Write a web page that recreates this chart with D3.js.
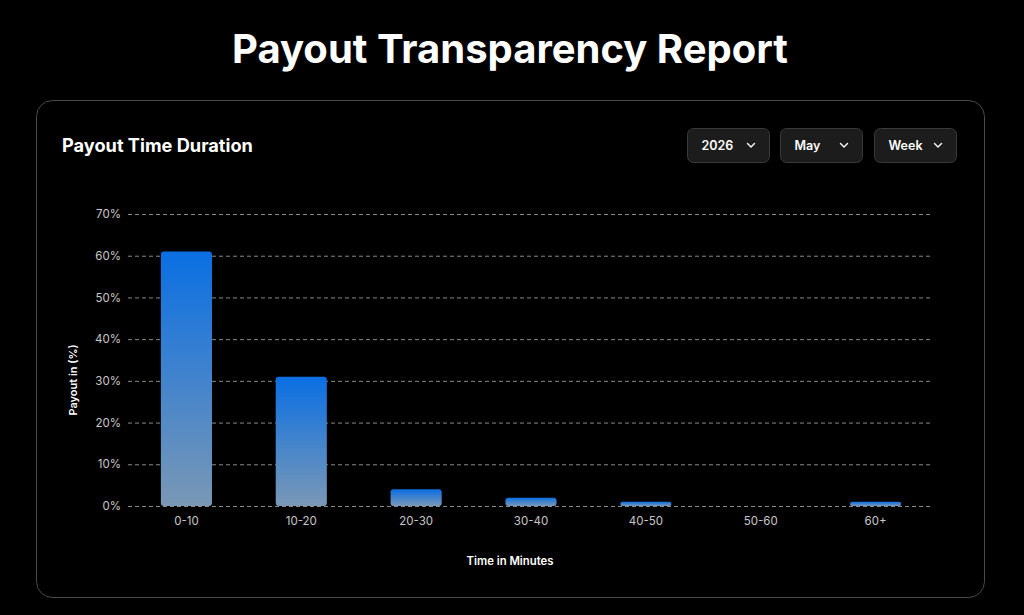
<!DOCTYPE html>
<html><head><meta charset="utf-8">
<script src="https://cdn.jsdelivr.net/npm/d3@7"></script>
<style>
html,body{margin:0;padding:0;background:#000;}
svg{display:block;font-family:Inter, "Noto Sans", sans-serif;}
</style></head>
<body><svg id="c" width="1024" height="615"></svg>
<script>
const categories = ["0-10","10-20","20-30","30-40","40-50","50-60","60+"];
const payoutPct = [61, 31, 4, 2, 1, 0, 1];
const yTicks = [0,10,20,30,40,50,60,70];
const dropdownLabels = ["2026","May","Week"];

const svg = d3.select("#c");
const defs = svg.append("defs");
const grad = defs.append("linearGradient").attr("id","barGrad").attr("x1",0).attr("y1",0).attr("x2",0).attr("y2",1);
grad.append("stop").attr("offset","0%").attr("stop-color","#0a6fe3");
grad.append("stop").attr("offset","100%").attr("stop-color","#7a98b6");

svg.append("text").attr("x",510).attr("y",63).attr("text-anchor","middle")
  .attr("fill","#fff").attr("font-size",40).attr("font-weight",700).text("Payout Transparency Report");

svg.append("rect").attr("x",36.5).attr("y",100.5).attr("width",948).attr("height",497).attr("rx",16)
  .attr("fill","#000").attr("stroke","#4a4a4a").attr("stroke-width",1);

svg.append("text").attr("x",62).attr("y",152).attr("fill","#fff").attr("font-size",18.2).attr("font-weight",700)
  .text("Payout Time Duration");

const ddX = [687,780,874];
dropdownLabels.forEach((t,i)=>{
  const g = svg.append("g").attr("transform",`translate(${ddX[i]+0.5},128.5)`);
  g.append("rect").attr("width",82).attr("height",34).attr("rx",6).attr("fill","#1c1c1c").attr("stroke","#3a3a3a");
  g.append("text").attr("x",14).attr("y",21).attr("fill","#fff").attr("font-size",12.5).attr("font-weight",600).text(t);
  g.append("path").attr("d","M60,15 l3.5,3.5 l3.5,-3.5").attr("fill","none").attr("stroke","#fff").attr("stroke-width",1.4)
    .attr("stroke-linecap","round").attr("stroke-linejoin","round");
});

const x = d3.scaleBand().domain(categories).range([129,933]).paddingInner(0.555).paddingOuter(0.2775);
const y = d3.scaleLinear().domain([0,70]).range([506,214]);

const grid = svg.append("g");
grid.selectAll("line").data(yTicks).join("line")
  .attr("x1",128).attr("x2",931).attr("y1",d=>y(d)+0.5).attr("y2",d=>y(d)+0.5)
  .attr("stroke","#8a8a8a").attr("stroke-width",1).attr("stroke-dasharray","4,3");

const yAxis = svg.append("g").attr("transform","translate(128,0)")
  .call(d3.axisLeft(y).tickValues(yTicks).tickFormat(d=>d+"%").tickSize(0).tickPadding(7));
yAxis.select(".domain").remove();
yAxis.selectAll("text").attr("fill","#c8c8c8").attr("font-size",11.5).attr("font-family","Inter, sans-serif");

const xAxis = svg.append("g").attr("transform","translate(0,506)")
  .call(d3.axisBottom(x).tickSize(0).tickPadding(11));
xAxis.select(".domain").remove();
xAxis.selectAll("text").attr("fill","#c8c8c8").attr("font-size",11.5).attr("font-family","Inter, sans-serif");

const r = 3;
svg.append("g").selectAll("path").data(categories.map((c,i)=>({c,v:payoutPct[i]})).filter(d=>d.v>0)).join("path")
  .attr("fill","url(#barGrad)")
  .attr("d",d=>{
    const x0=x(d.c), w=x.bandwidth(), y0=y(d.v), y1=y(0);
    const h=y1-y0, rr=Math.min(r,h/2);
    return `M${x0},${y1-rr} L${x0},${y0+rr} Q${x0},${y0} ${x0+rr},${y0} L${x0+w-rr},${y0} Q${x0+w},${y0} ${x0+w},${y0+rr} L${x0+w},${y1-rr} Q${x0+w},${y1} ${x0+w-rr},${y1} L${x0+rr},${y1} Q${x0},${y1} ${x0},${y1-rr} Z`;
  });

svg.append("text").attr("transform","translate(77,380) rotate(-90)").attr("text-anchor","middle")
  .attr("fill","#fff").attr("font-size",11).attr("font-weight",600).text("Payout in (%)");
svg.append("text").attr("x",510).attr("y",565).attr("text-anchor","middle")
  .attr("fill","#fff").attr("font-size",11.3).attr("font-weight",600).text("Time in Minutes");
</script></body></html>
